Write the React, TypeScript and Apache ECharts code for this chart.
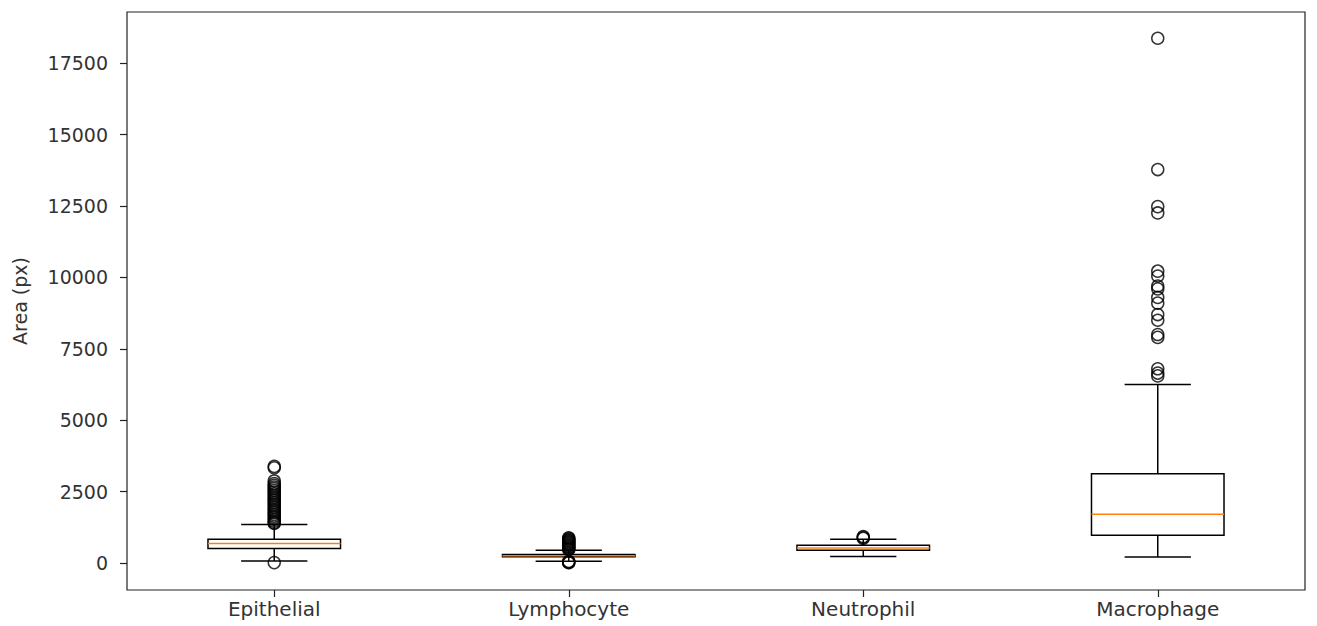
import React, { useEffect, useRef } from "react";
import * as echarts from "echarts";

const categories = ["Epithelial", "Lymphocyte", "Neutrophil", "Macrophage"];
// [lower whisker, Q1, median, Q3, upper whisker]
const boxStats = [
  [70, 501, 677, 829, 1342],
  [60, 215, 250, 290, 444],
  [220, 445, 525, 620, 830],
  [210, 968, 1703, 3127, 6253],
];
const epithelialOutliers = [
  3380, 3330, 2870, 2780, 2720, 2660, 2600, 2540, 2480, 2420, 2360, 2300, 2240, 2180,
  2120, 2060, 2000, 1940, 1880, 1820, 1760, 1700, 1640, 1580, 1520, 1460, 1410, 1380, 10,
];
const lymphocyteOutliers = [
  880, 850, 820, 790, 760, 730, 700, 670, 640, 610, 580, 550, 520, 490, 470, 50, 30, 15, 5,
];
const neutrophilOutliers = [920, 890, 860];
const macrophageOutliers = [
  18380, 13780, 12480, 12260, 10220, 10050, 9700, 9600, 9300, 9100, 8700, 8500, 8000,
  7900, 6800, 6650, 6550,
];
const yTicks = [0, 2500, 5000, 7500, 10000, 12500, 15000, 17500];

const outlierGroups = [epithelialOutliers, lymphocyteOutliers, neutrophilOutliers, macrophageOutliers];

export default function App() {
  const ref = useRef<HTMLDivElement>(null);
  useEffect(() => {
    if (!ref.current) return;
    const chart = echarts.init(ref.current, null, { renderer: "svg" });
    const boxData = boxStats.map((s, i) => [i, ...s]);
    const outlierData: number[][] = [];
    outlierGroups.forEach((g, i) => g.forEach((v) => outlierData.push([i, v])));
    const lw = 1.5;
    const font = "DejaVu Sans";
    chart.setOption({
      animation: false,
      backgroundColor: "#fff",
      grid: {
        left: 127,
        right: 12,
        top: 12,
        bottom: 36,
        show: true,
        borderColor: "#222",
        borderWidth: 1.2,
        backgroundColor: "transparent",
      },
      xAxis: {
        type: "category",
        data: categories,
        boundaryGap: true,
        axisLine: { show: false, onZero: false },
        axisTick: { show: true, alignWithLabel: true, length: 7, lineStyle: { color: "#222", width: 1.2 } },
        axisLabel: { color: "#333", fontSize: 20, fontFamily: font, margin: 9 },
        splitLine: { show: false },
      },
      yAxis: {
        type: "value",
        min: -950,
        max: 19300,
        name: "Area (px)",
        nameLocation: "middle",
        nameGap: 98,
        nameTextStyle: { color: "#333", fontSize: 19, fontFamily: font },
        axisLine: { show: false, onZero: false },
        axisTick: { show: true, length: 7, customValues: yTicks, lineStyle: { color: "#222", width: 1.2 } },
        axisLabel: {
          color: "#333",
          fontSize: 19,
          fontFamily: font,
          margin: 19,
          customValues: yTicks,
          formatter: (v: number) => String(v),
        },
        splitLine: { show: false },
      },
      series: [
        {
          type: "custom",
          data: boxData,
          encode: { x: 0, y: [1, 2, 3, 4, 5] },
          renderItem: (params: any, api: any) => {
            const idx = api.value(0);
            const band = api.size([1, 0])[0];
            const bw = band * 0.45;
            const cw = band * 0.225;
            const pLow = api.coord([idx, api.value(1)]);
            const pQ1 = api.coord([idx, api.value(2)]);
            const pMed = api.coord([idx, api.value(3)]);
            const pQ3 = api.coord([idx, api.value(4)]);
            const pHigh = api.coord([idx, api.value(5)]);
            const cx = pQ1[0];
            const stroke = { stroke: "#000", lineWidth: lw, fill: "none" };
            return {
              type: "group",
              children: [
                { type: "line", shape: { x1: cx, y1: pQ1[1], x2: cx, y2: pLow[1] }, style: stroke },
                { type: "line", shape: { x1: cx, y1: pQ3[1], x2: cx, y2: pHigh[1] }, style: stroke },
                { type: "line", shape: { x1: cx - cw / 2, y1: pLow[1], x2: cx + cw / 2, y2: pLow[1] }, style: stroke },
                { type: "line", shape: { x1: cx - cw / 2, y1: pHigh[1], x2: cx + cw / 2, y2: pHigh[1] }, style: stroke },
                {
                  type: "rect",
                  shape: { x: cx - bw / 2, y: pQ3[1], width: bw, height: pQ1[1] - pQ3[1] },
                  style: { stroke: "#000", lineWidth: lw, fill: "none" },
                },
                {
                  type: "line",
                  shape: { x1: cx - bw / 2, y1: pMed[1], x2: cx + bw / 2, y2: pMed[1] },
                  style: { stroke: "#ff7f0e", lineWidth: lw },
                },
              ],
            };
          },
          z: 2,
        },
        {
          type: "scatter",
          data: outlierData,
          symbol: "circle",
          symbolSize: 12,
          itemStyle: { color: "transparent", borderColor: "#000", borderWidth: 1.5 },
          z: 3,
        },
      ],
    });
    return () => chart.dispose();
  }, []);
  return (
    <div
      ref={ref}
      style={{ position: "fixed", left: 0, top: 0, width: 1317, height: 626, background: "#fff" }}
    />
  );
}
